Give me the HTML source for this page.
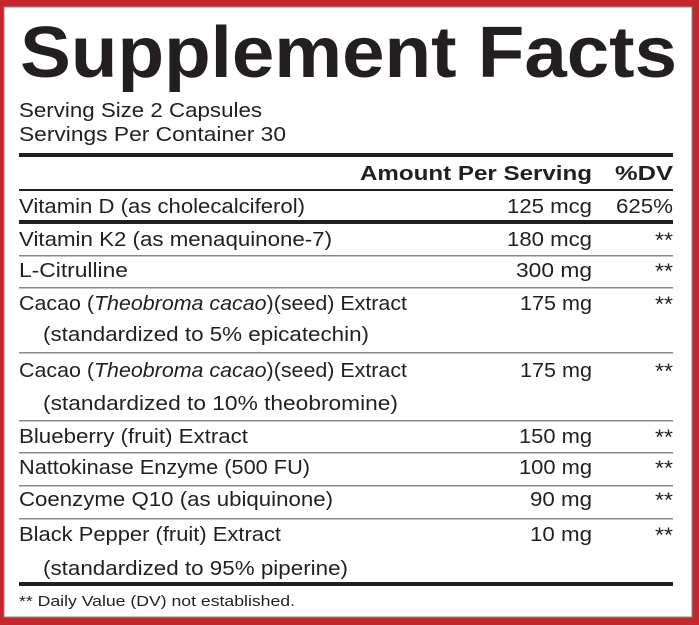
<!DOCTYPE html>
<html><head><meta charset="utf-8"><style>
html,body{margin:0;padding:0;background:#c4262e;}
svg{display:block;font-family:"Liberation Sans",sans-serif}
text{fill:#231f20}
</style></head><body>
<svg width="699" height="625" viewBox="0 0 699 625" xmlns="http://www.w3.org/2000/svg" font-size="20">
<rect x="0" y="0" width="699" height="625" fill="#c4262e"/>
<rect x="4" y="7" width="688" height="610" fill="#fff" stroke="#888" stroke-width="1"/>
<text x="20" y="77" style="font-size:72px;font-weight:bold" textLength="657" lengthAdjust="spacingAndGlyphs">Supplement Facts</text>
<text x="19" y="117" textLength="243" lengthAdjust="spacingAndGlyphs">Serving Size 2 Capsules</text>
<text x="19" y="141" textLength="267" lengthAdjust="spacingAndGlyphs">Servings Per Container 30</text>
<rect x="19" y="153" width="654" height="4" fill="#231f20"/>
<text x="360" y="180" font-weight="bold" textLength="232" lengthAdjust="spacingAndGlyphs">Amount Per Serving</text>
<text x="615" y="180" font-weight="bold" textLength="58" lengthAdjust="spacingAndGlyphs">%DV</text>
<rect x="19" y="189" width="654" height="2" fill="#231f20"/>
<text x="19" y="213" textLength="286" lengthAdjust="spacingAndGlyphs">Vitamin D (as cholecalciferol)</text>
<text x="507" y="213" textLength="85" lengthAdjust="spacingAndGlyphs">125 mcg</text>
<text x="616" y="213" textLength="57" lengthAdjust="spacingAndGlyphs">625%</text>
<rect x="19" y="220" width="654" height="4" fill="#231f20"/>
<g fill="#888"><rect x="19" y="255" width="654" height="1.5"/><rect x="19" y="287" width="654" height="1.5"/><rect x="19" y="352" width="654" height="1.5"/><rect x="19" y="420" width="654" height="1.5"/><rect x="19" y="452" width="654" height="1.5"/><rect x="19" y="485" width="654" height="1.5"/><rect x="19" y="518" width="654" height="1.5"/></g>
<text x="19" y="246" textLength="313" lengthAdjust="spacingAndGlyphs">Vitamin K2 (as menaquinone-7)</text>
<text x="507" y="246" textLength="85" lengthAdjust="spacingAndGlyphs">180 mcg</text>
<text x="19" y="277" textLength="109" lengthAdjust="spacingAndGlyphs">L-Citrulline</text>
<text x="516" y="277" textLength="76" lengthAdjust="spacingAndGlyphs">300 mg</text>
<text x="19" y="310" textLength="388" lengthAdjust="spacingAndGlyphs">Cacao (<tspan font-style="italic">Theobroma cacao</tspan>)(seed) Extract</text>
<text x="520" y="310" textLength="72" lengthAdjust="spacingAndGlyphs">175 mg</text>
<text x="43" y="341" textLength="326" lengthAdjust="spacingAndGlyphs">(standardized to 5% epicatechin)</text>
<text x="19" y="377" textLength="388" lengthAdjust="spacingAndGlyphs">Cacao (<tspan font-style="italic">Theobroma cacao</tspan>)(seed) Extract</text>
<text x="520" y="377" textLength="72" lengthAdjust="spacingAndGlyphs">175 mg</text>
<text x="43" y="410" textLength="355" lengthAdjust="spacingAndGlyphs">(standardized to 10% theobromine)</text>
<text x="19" y="443" textLength="229" lengthAdjust="spacingAndGlyphs">Blueberry (fruit) Extract</text>
<text x="519" y="443" textLength="73" lengthAdjust="spacingAndGlyphs">150 mg</text>
<text x="19" y="474" textLength="291" lengthAdjust="spacingAndGlyphs">Nattokinase Enzyme (500 FU)</text>
<text x="519" y="474" textLength="73" lengthAdjust="spacingAndGlyphs">100 mg</text>
<text x="19" y="506" textLength="314" lengthAdjust="spacingAndGlyphs">Coenzyme Q10 (as ubiquinone)</text>
<text x="530" y="506" textLength="62" lengthAdjust="spacingAndGlyphs">90 mg</text>
<text x="19" y="541" textLength="262" lengthAdjust="spacingAndGlyphs">Black Pepper (fruit) Extract</text>
<text x="530" y="541" textLength="62" lengthAdjust="spacingAndGlyphs">10 mg</text>
<text x="43" y="575" textLength="305" lengthAdjust="spacingAndGlyphs">(standardized to 95% piperine)</text>
<g style="font-size:21px">
<text x="655" y="247" textLength="18" lengthAdjust="spacingAndGlyphs">**</text>
<text x="655" y="278" textLength="18" lengthAdjust="spacingAndGlyphs">**</text>
<text x="655" y="311" textLength="18" lengthAdjust="spacingAndGlyphs">**</text>
<text x="655" y="378" textLength="18" lengthAdjust="spacingAndGlyphs">**</text>
<text x="655" y="444" textLength="18" lengthAdjust="spacingAndGlyphs">**</text>
<text x="655" y="475" textLength="18" lengthAdjust="spacingAndGlyphs">**</text>
<text x="655" y="507" textLength="18" lengthAdjust="spacingAndGlyphs">**</text>
<text x="655" y="542" textLength="18" lengthAdjust="spacingAndGlyphs">**</text>
</g>
<rect x="19" y="582" width="654" height="4" fill="#231f20"/>
<text x="19" y="606" style="font-size:15px" textLength="276" lengthAdjust="spacingAndGlyphs">** Daily Value (DV) not established.</text>
</svg>
</body></html>
